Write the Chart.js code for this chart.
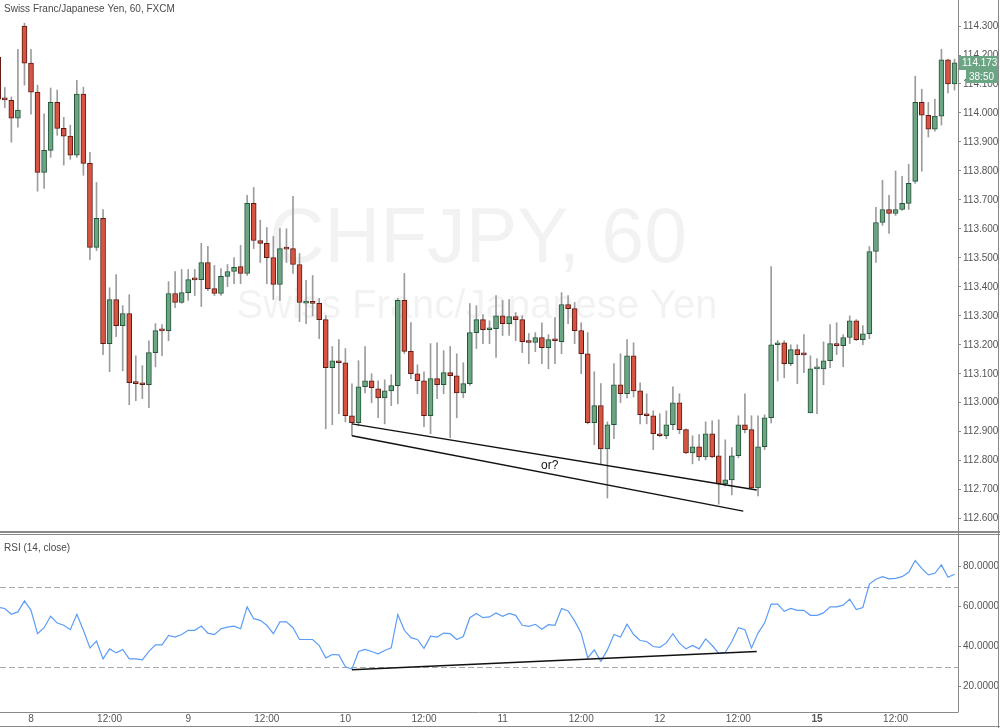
<!DOCTYPE html>
<html>
<head>
<meta charset="utf-8">
<script src="https://cdn.jsdelivr.net/npm/chart.js@4.4.1/dist/chart.umd.min.js"></script>
<style>
  body { margin: 0; background: #fff; width: 1000px; height: 728px; overflow: hidden; position: relative; }
  canvas { position: absolute; left: 0; }
  #priceChart { top: 0; }
  #rsiChart { top: 533px; }
</style>
</head>
<body>
<canvas id="priceChart" width="1000" height="533"></canvas>
<canvas id="rsiChart" width="1000" height="195"></canvas>
<script>
// CHFJPY 60 min candles
var opens = [114.193,114.048,114.044,113.982,114.300,114.172,114.072,113.795,113.871,114.037,
  113.947,113.920,113.854,114.065,113.826,113.536,113.636,113.204,113.356,113.266,
  113.308,113.073,113.066,113.062,113.173,113.250,113.249,113.377,113.346,113.380,
  113.427,113.425,113.484,113.394,113.377,113.436,113.453,113.470,113.446,113.688,
  113.560,113.550,113.501,113.408,113.534,113.532,113.477,113.344,113.347,113.343,
  113.287,113.121,113.145,113.138,112.955,112.931,113.055,113.076,113.048,113.017,
  113.041,113.059,113.353,113.177,113.100,113.076,112.955,113.083,113.062,113.104,
  113.093,113.034,113.066,113.242,113.287,113.252,113.256,113.300,113.273,113.297,
  113.287,113.212,113.208,113.225,113.190,113.218,113.211,113.339,113.325,113.249,
  113.169,112.931,112.990,112.841,112.924,113.062,113.031,113.162,113.041,112.962,
  112.955,112.893,112.886,112.924,113.000,112.907,112.827,112.848,112.813,112.893,
  112.817,112.720,112.734,112.817,112.924,112.907,112.706,112.848,112.948,113.200,
  113.207,113.135,113.183,113.167,112.965,113.117,113.117,113.145,113.204,113.197,
  113.225,113.283,113.218,113.238,113.522,113.622,113.667,113.653,113.667,113.688,
  113.764,114.037,113.992,113.944,113.989,114.183,114.100];
var highs = [114.200,114.088,114.055,114.220,114.310,114.220,114.096,113.997,114.086,114.079,
  113.985,113.958,114.113,114.089,113.864,113.760,113.667,113.397,113.442,113.335,
  113.373,113.162,113.128,113.214,113.273,113.270,113.418,113.453,113.460,113.460,
  113.460,113.550,113.540,113.474,113.463,113.477,113.501,113.543,113.716,113.743,
  113.630,113.605,113.574,113.601,113.600,113.712,113.515,113.422,113.439,113.360,
  113.300,113.194,113.218,113.187,113.065,113.145,113.194,113.100,113.076,113.079,
  113.097,113.360,113.446,113.277,113.131,113.107,113.204,113.207,113.180,113.194,
  113.169,113.138,113.342,113.335,113.304,113.283,113.370,113.353,113.356,113.311,
  113.300,113.239,113.242,113.276,113.235,113.294,113.380,113.370,113.346,113.276,
  113.242,113.107,113.066,112.934,113.135,113.169,113.218,113.207,113.069,113.031,
  112.972,112.962,112.972,113.055,113.031,112.910,112.886,112.890,112.934,112.938,
  112.941,112.872,112.845,112.955,113.031,112.955,112.955,112.958,113.470,113.215,
  113.214,113.200,113.200,113.235,113.162,113.152,113.210,113.270,113.276,113.235,
  113.300,113.287,113.266,113.539,113.674,113.768,113.716,113.800,113.781,113.823,
  114.127,114.082,114.037,114.048,114.220,114.186,114.186];
var lows = [114.040,114.018,113.899,113.951,114.096,113.996,113.730,113.740,113.847,113.923,
  113.820,113.840,113.847,113.785,113.494,113.525,113.166,113.107,113.228,113.110,
  112.993,113.007,113.014,112.983,113.124,113.162,113.214,113.328,113.343,113.353,
  113.370,113.332,113.387,113.370,113.370,113.401,113.411,113.411,113.439,113.532,
  113.484,113.411,113.356,113.353,113.484,113.446,113.280,113.273,113.300,113.221,
  112.910,112.924,112.962,112.934,112.886,112.920,113.034,113.000,112.948,112.927,
  112.990,112.996,113.170,113.083,113.031,112.917,112.893,113.014,113.031,112.879,
  112.948,113.017,113.060,113.187,113.204,113.204,113.156,113.232,113.232,113.214,
  113.173,113.135,113.176,113.135,113.117,113.135,113.169,113.273,113.204,113.100,
  112.927,112.855,112.789,112.671,112.876,113.000,113.017,113.020,112.927,112.927,
  112.838,112.882,112.876,112.907,112.893,112.824,112.789,112.800,112.803,112.810,
  112.650,112.713,112.682,112.810,112.896,112.703,112.678,112.838,112.930,113.075,
  113.086,113.128,113.066,113.104,112.965,112.962,113.062,113.121,113.166,113.124,
  113.204,113.214,113.200,113.221,113.484,113.612,113.584,113.646,113.664,113.667,
  113.757,113.799,113.917,113.937,113.958,114.069,114.079];
var closes = [114.048,114.045,113.982,114.010,114.172,114.072,113.795,113.871,114.037,113.947,
  113.920,113.854,114.065,113.826,113.536,113.636,113.204,113.356,113.266,113.308,
  113.069,113.066,113.062,113.173,113.249,113.248,113.377,113.346,113.380,113.425,
  113.424,113.484,113.394,113.377,113.436,113.453,113.467,113.446,113.688,113.560,
  113.550,113.501,113.408,113.532,113.530,113.477,113.346,113.347,113.343,113.287,
  113.121,113.145,113.138,112.955,112.931,113.055,113.076,113.052,113.017,113.041,
  113.059,113.353,113.177,113.100,113.076,112.955,113.083,113.062,113.104,113.093,
  113.034,113.066,113.242,113.287,113.252,113.256,113.300,113.273,113.297,113.287,
  113.211,113.208,113.225,113.190,113.218,113.214,113.339,113.325,113.249,113.169,
  112.931,112.990,112.841,112.924,113.062,113.031,113.162,113.041,112.959,112.955,
  112.893,112.886,112.924,113.000,112.907,112.827,112.848,112.813,112.893,112.813,
  112.720,112.734,112.817,112.924,112.907,112.706,112.848,112.948,113.200,113.205,
  113.135,113.183,113.166,113.165,113.117,113.120,113.145,113.204,113.197,113.225,
  113.283,113.218,113.238,113.522,113.622,113.667,113.653,113.667,113.688,113.757,
  114.037,113.992,113.944,113.989,114.183,114.100,114.173];
var rsi = [59.7,59.1,56.2,57.4,62.9,58.2,46.5,49.5,55.2,51.8,
  50.7,48.5,56.2,48.2,39.4,42.8,33.9,38.9,36.9,38.6,
  33.9,33.9,33.4,37.7,40.9,40.9,45.6,44.8,46.1,48.2,
  48.2,50.3,46.8,46.0,49.0,49.8,50.3,49.0,59.9,54.0,
  53.2,50.7,46.5,52.4,52.4,49.5,43.6,43.6,43.6,40.6,
  34.4,36.1,35.9,30.0,28.8,37.6,38.6,37.6,36.4,38.1,
  39.4,56.1,48.2,44.5,43.6,39.2,45.3,44.8,46.8,46.5,
  43.6,45.1,54.5,56.6,54.5,54.9,56.9,55.2,56.6,55.7,
  50.7,50.2,51.2,48.7,51.0,50.7,59.1,57.9,52.9,46.8,
  34.4,38.4,32.7,38.4,46.1,44.8,51.2,46.1,43.1,42.6,
  40.1,39.7,41.9,46.5,41.8,38.9,40.6,38.9,43.9,40.6,
  36.7,37.2,42.6,49.5,48.5,39.4,46.8,51.8,61.3,61.3,
  57.7,59.1,58.2,58.2,55.7,55.7,56.9,59.9,59.9,60.8,
  63.8,58.6,59.6,71.3,73.7,75.0,73.9,74.2,75.0,77.2,
  83.1,79.2,75.9,76.7,80.9,74.7,76.2];

var timeTickIdx = [5,17,29,41,53,65,77,89,101,113,125,137];
var timeLabels = ['8','12:00','9','12:00','10','12:00','11','12:00','12','12:00','15','12:00'];
var priceTicks = [112.6,112.7,112.8,112.9,113.0,113.1,113.2,113.3,113.4,113.5,113.6,113.7,113.8,113.9,114.0,114.1,114.2,114.3,114.4];
var rsiTicks = [20,40,60,80];
var rsiBands = [70,30];

// hand drawn trendlines (bar index, value)
var upperLine = [[54,112.927],[115.8,112.699]];
var lowerLine = [[54,112.886],[113.75,112.626]];
var rsiLine = [[54,28.5],[115.8,37.6]];
var orNote = [84.2,112.782];

var lastCountdown = '38:50';

Chart.defaults.font.family = "'Liberation Sans', Arial, sans-serif";
Chart.defaults.color = '#555';

var UP = '#6ba583', UP_B = '#225437', DN = '#d75442', DN_B = '#5b1a13';
var xMin = 0.267, xMax = 146.53;

var up = closes.map(function(c, i){ return c >= opens[i]; });

var frameColor = '#8a8a8a';

// no label overhang padding, keep plot area edge to edge
function noPad(s) {
  s.paddingTop = 0; s.paddingBottom = 0; s.paddingLeft = 0; s.paddingRight = 0;
}

const priceDeco = {
  id: 'priceDeco',
  beforeDatasetsDraw(chart) {
    const ctx = chart.ctx;
    ctx.save();
    ctx.fillStyle = 'rgba(0,0,0,0.05)';
    ctx.textAlign = 'center';
    ctx.textBaseline = 'middle';
    ctx.font = "77px 'Liberation Sans', Arial, sans-serif";
    ctx.fillText('CHFJPY, 60', 478, 241);
    ctx.font = "40px 'Liberation Sans', Arial, sans-serif";
    ctx.fillText('Swiss Franc/Japanese Yen', 477, 307);
    ctx.restore();
  },
  afterDraw(chart) {
    const ctx = chart.ctx, xs = chart.scales.x, ys = chart.scales.y;
    ctx.save();
    ctx.fillStyle = '#4a4a4a';
    ctx.font = "10px 'Liberation Sans', Arial, sans-serif";
    ctx.textBaseline = 'middle';
    ctx.textAlign = 'left';
    ctx.fillText('Swiss Franc/Japanese Yen, 60, FXCM', 4, 9);

    ctx.fillStyle = '#111';
    ctx.font = "12px 'Liberation Sans', Arial, sans-serif";
    ctx.textAlign = 'center';
    ctx.fillText('or?', xs.getPixelForValue(orNote[0]), ys.getPixelForValue(orNote[1]));

    // frame
    ctx.strokeStyle = frameColor;
    ctx.lineWidth = 1;
    ctx.beginPath();
    ctx.moveTo(958.5, 0); ctx.lineTo(958.5, 533);
    ctx.moveTo(998.5, 0); ctx.lineTo(998.5, 533);
    ctx.stroke();
    ctx.lineWidth = 2;
    ctx.beginPath();
    ctx.moveTo(0, 532); ctx.lineTo(1000, 532);
    ctx.stroke();

    // last price label
    const last = closes.length - 1;
    const py = Math.round(ys.getPixelForValue(closes[last]));
    ctx.fillStyle = up[last] ? UP : DN;
    ctx.fillRect(959, py - 7, 39, 14);
    ctx.fillRect(966, py + 7, 32, 13);
    ctx.fillStyle = '#fff';
    ctx.font = "10px 'Liberation Sans', Arial, sans-serif";
    ctx.textAlign = 'left';
    ctx.fillText(closes[last].toFixed(3), 962, py);
    ctx.fillText(lastCountdown, 969, py + 14);
    ctx.restore();
  }
};

new Chart('priceChart', {
  data: {
    datasets: [
      {
        type: 'bar',
        data: opens.map(function(o, i){ return {x: i, y: [lows[i], highs[i]]}; }),
        backgroundColor: '#9c9c9c',
        barThickness: 1,
        grouped: false,
        order: 3
      },
      {
        type: 'bar',
        data: opens.map(function(o, i){ return {x: i, y: [o, closes[i]]}; }),
        backgroundColor: up.map(function(u){ return u ? UP : DN; }),
        borderColor: up.map(function(u){ return u ? UP_B : DN_B; }),
        borderWidth: 1,
        borderSkipped: false,
        barThickness: 5,
        minBarLength: 2,
        grouped: false,
        order: 2
      },
      {
        type: 'line',
        data: upperLine.map(function(p){ return {x: p[0], y: p[1]}; }),
        borderColor: '#111', borderWidth: 1.4, pointRadius: 0, order: 1
      },
      {
        type: 'line',
        data: lowerLine.map(function(p){ return {x: p[0], y: p[1]}; }),
        borderColor: '#111', borderWidth: 1.4, pointRadius: 0, order: 1
      }
    ]
  },
  options: {
    responsive: false,
    animation: false,
    layout: { padding: 0, autoPadding: false },
    plugins: { legend: { display: false }, tooltip: { enabled: false } },
    scales: {
      x: { type: 'linear', min: xMin, max: xMax, offset: false, display: false },
      y: {
        position: 'right',
        min: 112.5504, max: 114.3899,
        afterFit: function(s){ s.width = 42; noPad(s); },
        afterBuildTicks: function(s){ s.ticks = priceTicks.map(function(v){ return {value: v}; }); },
        ticks: { callback: function(v){ return Number(v).toFixed(3); }, font: { size: 10 }, color: '#555', padding: 2 },
        grid: { drawOnChartArea: false, tickLength: 3, color: frameColor },
        border: { display: false }
      }
    }
  },
  plugins: [priceDeco]
});

const rsiDeco = {
  id: 'rsiDeco',
  beforeDatasetsDraw(chart) {
    const ctx = chart.ctx, ys = chart.scales.y, a = chart.chartArea;
    ctx.save();
    ctx.strokeStyle = '#a8a8a8';
    ctx.lineWidth = 1;
    ctx.setLineDash([6, 3]);
    rsiBands.forEach(function(v){
      const y = Math.round(ys.getPixelForValue(v)) + 0.5;
      ctx.beginPath(); ctx.moveTo(a.left, y); ctx.lineTo(a.right, y); ctx.stroke();
    });
    ctx.restore();
  },
  afterDraw(chart) {
    const ctx = chart.ctx;
    ctx.save();
    ctx.fillStyle = '#4a4a4a';
    ctx.font = "10px 'Liberation Sans', Arial, sans-serif";
    ctx.textBaseline = 'middle';
    ctx.fillText('RSI (14, close)', 4, 15);
    ctx.strokeStyle = frameColor;
    ctx.lineWidth = 1;
    ctx.beginPath();
    ctx.moveTo(0, 1.5); ctx.lineTo(1000, 1.5);
    ctx.moveTo(958.5, 0); ctx.lineTo(958.5, 179);
    ctx.moveTo(0, 179.5); ctx.lineTo(958.5, 179.5);
    ctx.moveTo(0, 193.5); ctx.lineTo(1000, 193.5);
    ctx.moveTo(998.5, 0); ctx.lineTo(998.5, 195);
    ctx.stroke();
    ctx.restore();
  }
};

new Chart('rsiChart', {
  type: 'line',
  data: {
    datasets: [
      {
        data: rsi.map(function(v, i){ return {x: i, y: v}; }),
        borderColor: '#5b9cf6', borderWidth: 1.2, pointRadius: 0, tension: 0, order: 2
      },
      {
        data: rsiLine.map(function(p){ return {x: p[0], y: p[1]}; }),
        borderColor: '#111', borderWidth: 1.4, pointRadius: 0, order: 1
      }
    ]
  },
  options: {
    responsive: false,
    animation: false,
    layout: { padding: { top: 1, left: 0, right: 0, bottom: 0 }, autoPadding: false },
    plugins: { legend: { display: false }, tooltip: { enabled: false } },
    scales: {
      x: {
        type: 'linear', min: xMin, max: xMax, offset: false,
        afterFit: function(s){ s.height = 16; noPad(s); },
        afterBuildTicks: function(s){ s.ticks = timeTickIdx.map(function(v){ return {value: v}; }); },
        ticks: {
          autoSkip: false, maxRotation: 0, padding: 1, color: '#555',
          callback: function(v){ return timeLabels[timeTickIdx.indexOf(v)]; },
          font: function(c){ return { size: 10, weight: c.tick && c.tick.label === '15' ? 'bold' : 'normal' }; }
        },
        grid: { display: false, drawTicks: false },
        border: { display: false }
      },
      y: {
        position: 'right',
        min: 7.35, max: 96.35,
        afterFit: function(s){ s.width = 42; noPad(s); },
        afterBuildTicks: function(s){ s.ticks = rsiTicks.map(function(v){ return {value: v}; }); },
        ticks: { callback: function(v){ return Number(v).toFixed(4); }, font: { size: 10 }, color: '#555', padding: 2 },
        grid: { drawOnChartArea: false, tickLength: 3, color: frameColor },
        border: { display: false }
      }
    }
  },
  plugins: [rsiDeco]
});
</script>
</body>
</html>
